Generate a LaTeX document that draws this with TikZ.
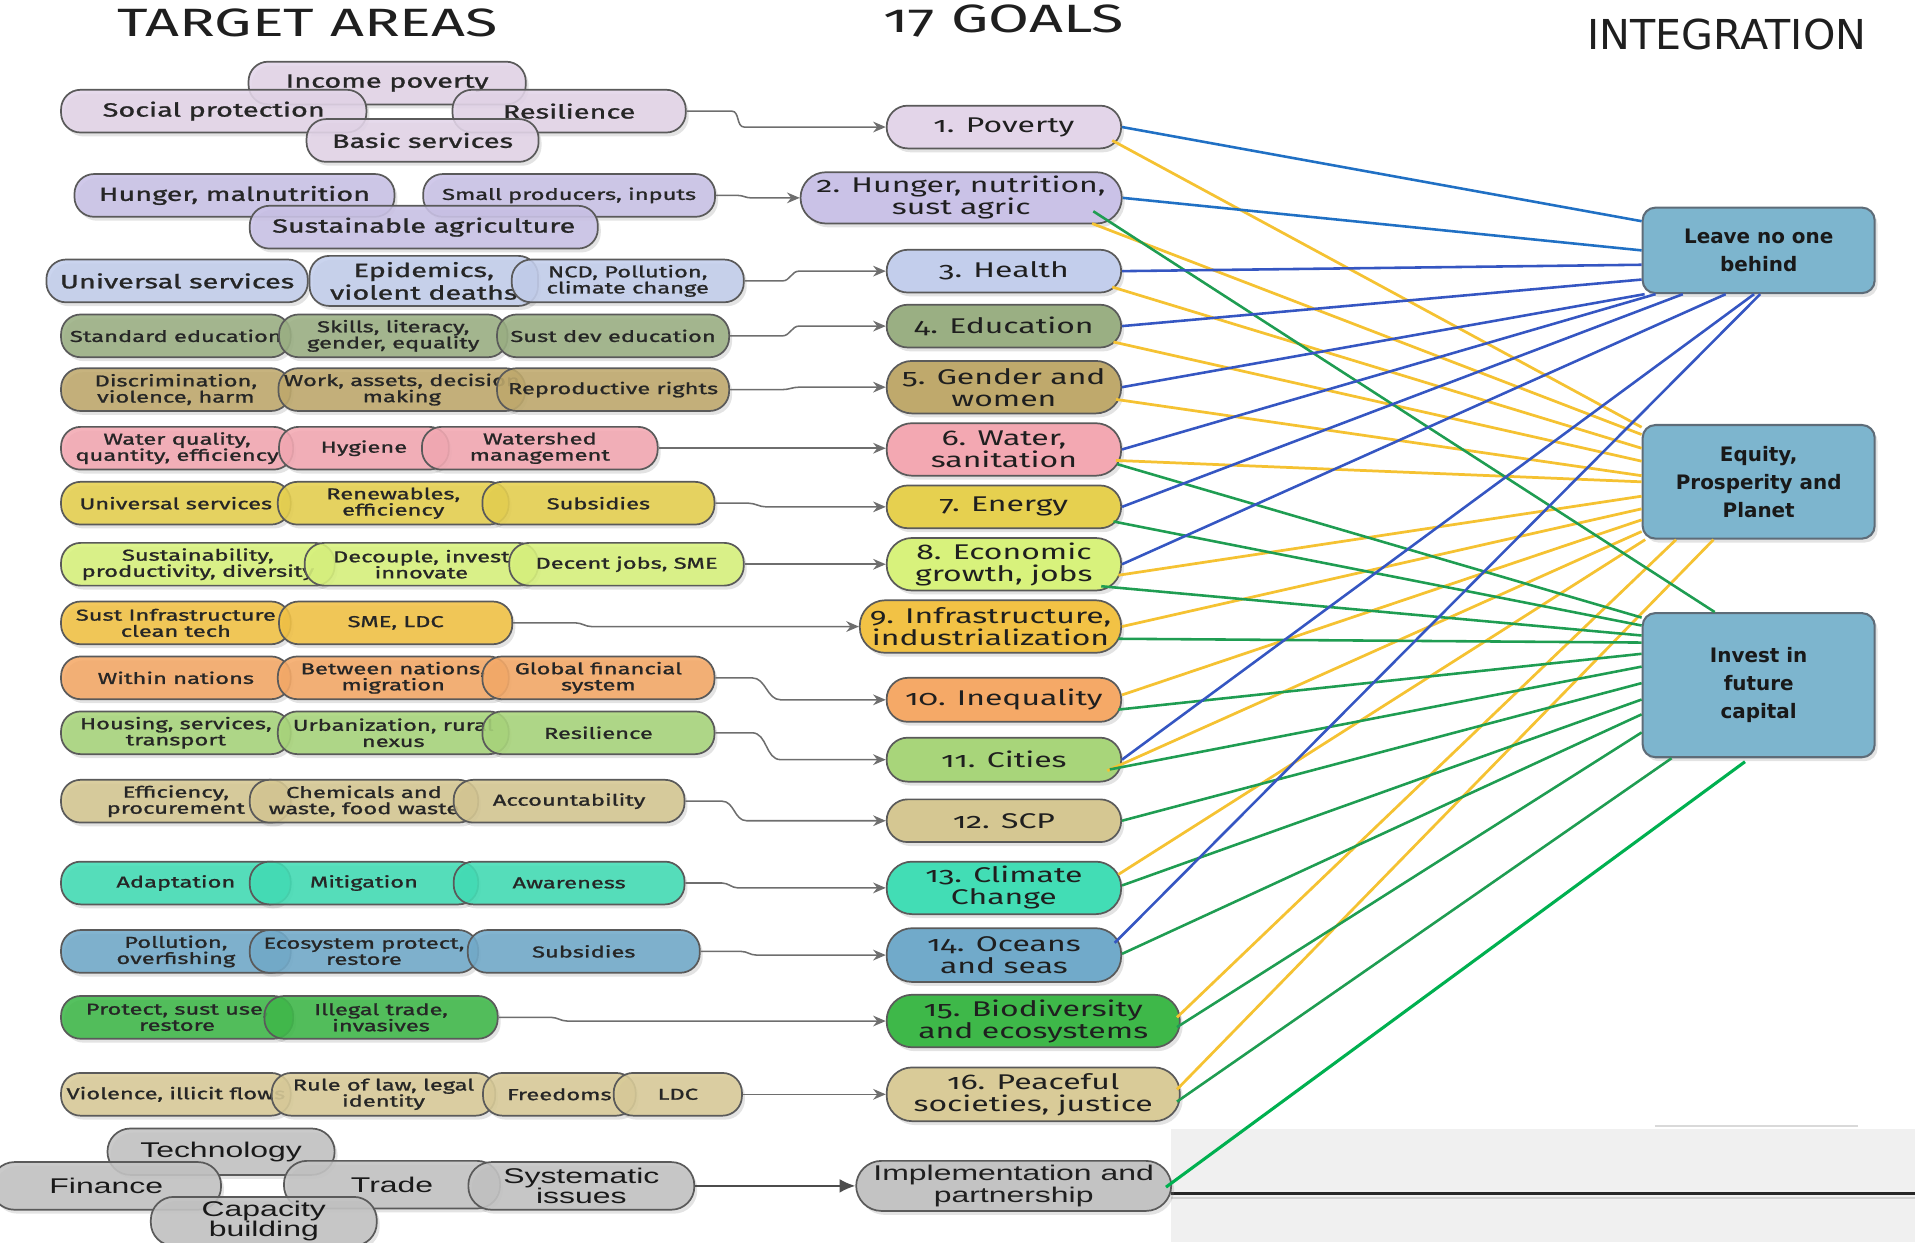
\documentclass[tikz,border=0pt]{standalone}
\usepackage{fontspec}
\setmainfont{Fira Sans}[FakeStretch=1.5,Numbers=OldStyle]
\newfontfamily\pillfont{Fira Sans}[FakeStretch=1.5,FakeBold=1.2]
\newfontfamily\arialfont{Liberation Sans}[FakeStretch=1.5]
\newfontfamily\boxfont{DejaVu Sans}
\usepackage{tikz}
\usetikzlibrary{calc,shadows,arrows.meta}
\definecolor{c1}{HTML}{E3D5E9}
\definecolor{c2}{HTML}{CAC2E7}
\definecolor{c3}{HTML}{C3CEEC}
\definecolor{c4}{HTML}{9AAF83}
\definecolor{c5}{HTML}{BFA96C}
\definecolor{c6}{HTML}{F3A8B2}
\definecolor{c7}{HTML}{E6D04F}
\definecolor{c8}{HTML}{D8F27C}
\definecolor{c9}{HTML}{F2C245}
\definecolor{c10}{HTML}{F5A967}
\definecolor{c11}{HTML}{A8D57A}
\definecolor{c12}{HTML}{D5C792}
\definecolor{c13}{HTML}{42DDB5}
\definecolor{c14}{HTML}{71AACA}
\definecolor{c15}{HTML}{3EB849}
\definecolor{c16}{HTML}{D9CB98}
\definecolor{c17}{HTML}{C3C3C3}
\definecolor{lblue}{HTML}{2070C4}
\definecolor{dblue}{HTML}{3556C2}
\definecolor{lyel}{HTML}{F5C232}
\definecolor{lgrn}{HTML}{1F9D52}
\definecolor{bgrn}{HTML}{00B050}
\definecolor{boxblue}{HTML}{7DB5CE}
\definecolor{boxedge}{HTML}{5E6C78}
\definecolor{pilledge}{HTML}{5A5A5A}
\definecolor{pilltxt}{HTML}{262626}
\definecolor{feedgray}{HTML}{6E6E6E}
\definecolor{panelgray}{HTML}{F0F0F0}
\newcommand\ctr[1]{\makebox[0pt]{#1}}
\tikzset{pw/.style={minimum width=#1*0.125mm}, ph/.style={minimum height=#1*0.125mm}}
\tikzstyle{pill}=[rectangle, rounded corners=2mm, draw=pilledge, line width=0.5pt, fill opacity=0.88, text opacity=1, inner sep=0pt, ph=35, align=center, text=pilltxt, font=\pillfont\fontsize{4.6}{4.7}\selectfont, drop shadow={opacity=0.22, shadow xshift=0.3mm, shadow yshift=-0.4mm}]
\tikzstyle{big}=[font=\pillfont\fontsize{5.6}{5.4}\selectfont]
\tikzstyle{goal}=[pill, fill opacity=1, rounded corners=2.15mm, pw=192, ph=35, text=black!88, font=\fontsize{6.2}{6.4}\selectfont]
\tikzstyle{goal2}=[goal, rounded corners=2.6mm, ph=43]
\tikzstyle{gbub}=[pill, fill=c17, rounded corners=2.35mm, ph=39, text=black!90, font=\arialfont\fontsize{6.2}{5.9}\selectfont]
\tikzstyle{intbox}=[rectangle, rounded corners=1.3mm, draw=boxedge, fill=boxblue, line width=0.6pt, pw=190, align=center, text=black!90, font=\boxfont\bfseries\fontsize{5.8}{8.2}\selectfont, drop shadow={opacity=0.22, shadow xshift=0.3mm, shadow yshift=-0.4mm}]
\tikzstyle{hdr}=[font=\fontsize{11.5}{12}\selectfont, text=black!88]
\tikzstyle{feed}=[draw=feedgray, line width=0.45pt, -{Stealth[length=1.3mm,width=1.1mm]}]
\tikzstyle{blu}=[draw=dblue, line width=0.75pt]
\tikzstyle{yel}=[draw=lyel, line width=0.8pt]
\tikzstyle{grn}=[draw=lgrn, line width=0.75pt]
\begin{document}
\begin{tikzpicture}
\pgfsetxvec{\pgfpoint{0.125mm}{0cm}}
\pgfsetyvec{\pgfpoint{0cm}{-0.125mm}}
\useasboundingbox (0,0) rectangle (1568,1017);
\fill[panelgray] (959,924) rectangle (1568,1017);
\draw[black!18, line width=0.5pt] (959,981) -- (1568,981);
\draw[black!85, line width=1pt] (959,977) -- (1568,977);
\draw[black!15, line width=0.5pt] (1355,922) -- (1521,922);

\node[hdr] at (252,19) (ta) {TARGET AREAS};
\node[hdr] at (822,17) (sg) {17 GOALS};
\node[font=\boxfont\fontsize{12}{13}\selectfont, text=black!88] at (1414,28) (intg) {INTEGRATION};

\node[pill,big,fill=c1,pw=227] at (317,68) (ip) {Income poverty};
\node[pill,big,fill=c1,pw=250] at (175,91) (sp) {Social protection};
\node[pill,big,fill=c1,pw=191] at (466,91) (rs1) {Resilience};
\node[pill,big,fill=c1,pw=190] at (346,115) (bs) {Basic services};
\node[pill,big,fill=c2,pw=262] at (192,160) (hm) {Hunger, malnutrition};
\node[pill,fill=c2,pw=239] at (466,160) (spi) {Small producers, inputs};
\node[pill,big,fill=c2,pw=285] at (347,186) (sa) {Sustainable agriculture};
\node[pill,big,fill=c3,pw=214] at (145,230) (us1) {Universal services};
\node[pill,big,fill=c3,pw=187,ph=41] at (347,230) (ep) {Epidemics,\\violent deaths};
\node[pill,fill=c3,pw=190] at (514,230) (ncd) {NCD, Pollution,\\climate change};
\node[pill,fill=c4,pw=188] at (144,275) (se) {Standard education};
\node[pill,fill=c4,pw=187] at (322,275) (sl) {Skills, literacy,\\gender, equality};
\node[pill,fill=c4,pw=190] at (502,275) (sde) {Sust dev education};
\node[pill,fill=c5,pw=188] at (144,319) (dv) {Discrimination,\\violence, harm};
\node[pill,fill=c5,pw=202] at (329,319) (wa) {\ctr{Work, assets, decision}\\making};
\node[pill,fill=c5,pw=190] at (502,319) (rr) {Reproductive rights};
\node[pill,fill=c6,pw=190] at (145,367) (wq) {Water quality,\\quantity, efficiency};
\node[pill,fill=c6,pw=139] at (298,367) (hy) {Hygiene};
\node[pill,fill=c6,pw=193] at (442,367) (wm) {Watershed\\management};
\node[pill,fill=c7,pw=188] at (144,412) (us2) {Universal services};
\node[pill,fill=c7,pw=189] at (322,412) (re) {Renewables,\\efficiency};
\node[pill,fill=c7,pw=190] at (490,412) (sb1) {Subsidies};
\node[pill,fill=c8,pw=224] at (162,462) (spd) {Sustainability,\\productivity, diversity};
\node[pill,fill=c8,pw=191] at (345,462) (di) {Decouple, invest\\innovate};
\node[pill,fill=c8,pw=192] at (513,462) (dj) {Decent jobs, SME};
\node[pill,fill=c9,pw=188] at (144,510) (si) {Sust Infrastructure\\clean tech};
\node[pill,fill=c9,pw=191] at (324,510) (sme) {SME, LDC};
\node[pill,fill=c10,pw=188] at (144,555) (wn) {Within nations};
\node[pill,fill=c10,pw=189] at (322,555) (bn) {Between nations,\\migration};
\node[pill,fill=c10,pw=190] at (490,555) (gf) {Global financial\\system};
\node[pill,fill=c11,pw=188] at (144,600) (hst) {Housing, services,\\transport};
\node[pill,fill=c11,pw=189] at (322,600) (ur) {Urbanization, rural\\nexus};
\node[pill,fill=c11,pw=190] at (490,600) (rs2) {Resilience};
\node[pill,fill=c12,pw=188] at (144,656) (epr) {Efficiency,\\procurement};
\node[pill,fill=c12,pw=187] at (298,656) (cw) {Chemicals and\\waste, food waste};
\node[pill,fill=c12,pw=189] at (466,656) (ac) {Accountability};
\node[pill,fill=c13,pw=188] at (144,723) (ad) {Adaptation};
\node[pill,fill=c13,pw=187] at (298,723) (mi) {Mitigation};
\node[pill,fill=c13,pw=189] at (466,723) (aw) {Awareness};
\node[pill,fill=c14,pw=188] at (144,779) (po) {Pollution,\\overfishing};
\node[pill,fill=c14,pw=187] at (298,779) (es) {Ecosystem protect,\\restore};
\node[pill,fill=c14,pw=190] at (478,779) (sb2) {Subsidies};
\node[pill,fill=c15,pw=190] at (145,833) (ps) {Protect, sust use,\\restore};
\node[pill,fill=c15,pw=191] at (312,833) (ilt) {Illegal trade,\\invasives};
\node[pill,fill=c16,pw=188] at (144,896) (vi) {Violence, illicit flows};
\node[pill,fill=c16,pw=183] at (314,896) (rl) {Rule of law, legal\\identity};
\node[pill,fill=c16,pw=125] at (458,896) (fr) {Freedoms};
\node[pill,fill=c16,pw=105] at (555,896) (ldc) {LDC};
\node[gbub,pw=186,ph=38] at (181,943) (te) {Technology};
\node[gbub,pw=188] at (87,971) (fi) {Finance};
\node[gbub,pw=177] at (321,970) (tr) {Trade};
\node[gbub,pw=185,ph=40] at (216,1000) (cb) {Capacity\\building};
\node[gbub,pw=185] at (476,971) (sis) {Systematic\\issues};

\node[goal,fill=c1] at (822,104) (g1) {1. Poverty};
\node[goal2,fill=c2,pw=263,ph=42] at (787,162) (g2) {2. Hunger, nutrition,\\sust agric};
\node[goal,fill=c3] at (822,222) (g3) {3. Health};
\node[goal,fill=c4] at (822,267) (g4) {4. Education};
\node[goal2,fill=c5] at (822,317) (g5) {5. Gender and\\women};
\node[goal2,fill=c6] at (822,368) (g6) {6. Water,\\sanitation};
\node[goal,fill=c7] at (822,415) (g7) {7. Energy};
\node[goal2,fill=c8] at (822,462) (g8) {8. Economic\\growth, jobs};
\node[goal2,fill=c9,pw=214] at (811,513) (g9) {9. Infrastructure,\\industrialization};
\node[goal,fill=c10,ph=36] at (822,573) (g10) {10. Inequality};
\node[goal,fill=c11,ph=36] at (822,622) (g11) {11. Cities};
\node[goal,fill=c12] at (822,672) (g12) {12. SCP};
\node[goal2,fill=c13] at (822,727) (g13) {13. Climate\\Change};
\node[goal2,fill=c14,ph=44] at (822,782) (g14) {14. Oceans\\and seas};
\node[goal2,fill=c15,pw=240] at (846,836) (g15) {15. Biodiversity\\and ecosystems};
\node[goal2,fill=c16,pw=240,ph=44] at (846,896) (g16) {16. Peaceful\\societies, justice};
\node[goal2,fill=c17,pw=258,ph=41,font=\arialfont\fontsize{6.2}{6.4}\selectfont] at (830,971) (g17) {Implementation and\\partnership};

\node[intbox,ph=70] at (1440,205) (lnob) {Leave no one\\behind};
\node[intbox,ph=93] at (1440,394.5) (epp) {Equity,\\Prosperity and\\Planet};
\node[intbox,ph=118] at (1440,561) (ifc) {Invest in\\future\\capital};

\draw[feed] (rs1.east) -- ++(37,0) to[out=0,in=180] ($(g1.west)+(-116,0)$) -- (g1.west);
\draw[feed] (spi.east) -- ++(18,0) to[out=0,in=180] ($(g2.west)+(-40,0)$) -- (g2.west);
\draw[feed] (ncd.east) -- ++(31,0) to[out=0,in=180] ($(g3.west)+(-71,0)$) -- (g3.west);
\draw[feed] (sde.east) -- ++(43,0) to[out=0,in=180] ($(g4.west)+(-71,0)$) -- (g4.west);
\draw[feed] (rr.east) -- ++(43,0) to[out=0,in=180] ($(g5.west)+(-71,0)$) -- (g5.west);
\draw[feed] (wm.east) -- (wm.east -| g6.west);
\draw[feed] (sb1.east) -- ++(27,0) to[out=0,in=180] ($(g7.west)+(-98,0)$) -- (g7.west);
\draw[feed] (dj.east) -- (dj.east -| g8.west);
\draw[feed] (sme.east) -- ++(51,0) to[out=0,in=180] ($(g9.west)+(-219,0)$) -- (g9.west);
\draw[feed] (gf.east) -- ++(30,0) to[out=0,in=180] ($(g10.west)+(-86,0)$) -- (g10.west);
\draw[feed] (rs2.east) -- ++(30,0) to[out=0,in=180] ($(g11.west)+(-86,0)$) -- (g11.west);
\draw[feed] (ac.east) -- ++(30,0) to[out=0,in=180] ($(g12.west)+(-114,0)$) -- (g12.west);
\draw[feed] (aw.east) -- ++(30,0) to[out=0,in=180] ($(g13.west)+(-121,0)$) -- (g13.west);
\draw[feed] (sb2.east) -- ++(33,0) to[out=0,in=180] ($(g14.west)+(-106,0)$) -- (g14.west);
\draw[feed] (ilt.east) -- ++(43,0) to[out=0,in=180] ($(g15.west)+(-261,0)$) -- (g15.west);
\draw[feed] (ldc.east) -- (ldc.east -| g16.west);
\draw[feed, draw=black!70, -{Latex[length=1.6mm,width=1.4mm]}] (sis.east) -- (sis.east -| g17.west);

\foreach \g/\dx/\dy/\a in {g1/-8/11/155,g2/-25/21/158,g3/-8/13/164,g4/-7/13/170,g5/-5/10/177,g6/-5/9/180,g8/-3/9/187,g9/0/0/193,g10/0/-4/198,g11/-12/9/203,g13/-3/-11/207,g15/-3/-3/215,g16/-3/-4/232}
  \draw[yel] ($(\g.east)+(\dx,\dy)$) -- (epp.\a);
\foreach \g/\dx/\dy/\a in {g2/-24/11/121,g6/-4/12/150,g7/-7/12/153,g8/-17/18/157,g9/-3/10/160,g10/-3/8/165,g11/-10/8/171,g12/0/0/179,g13/0/-2/187,g14/0/-1/194,g15/-3/5/202,g16/-3/6/220}
  \draw[grn] ($(\g.east)+(\dx,\dy)$) -- (ifc.\a);
\draw[draw=bgrn, line width=0.9pt, shorten >=0.6mm] ($(g17.east)+(-5,1)$) -- (ifc.263);
\draw[blu, draw=lblue] (g1.east) -- (lnob.166);
\draw[blu, draw=lblue] (g2.east) -- (lnob.180);
\foreach \g/\a in {g3/187,g4/194,g5/201,g6/203,g7/210,g8/233,g11/264}
  \draw[blu] (\g.east) -- (lnob.\a);
\draw[blu] ($(g14.east)+(-6,-10)$) -- (lnob.272);
\end{tikzpicture}
\end{document}
